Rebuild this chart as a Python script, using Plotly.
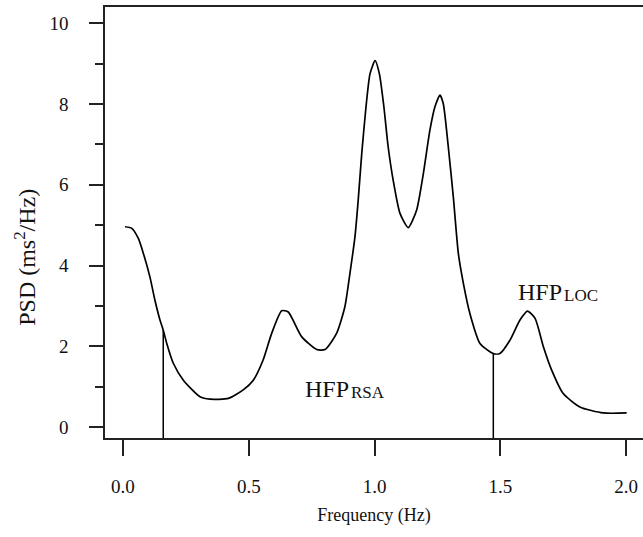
import numpy as np
import plotly.graph_objects as go

# Power spectral density estimate (frequency in Hz, PSD in ms^2/Hz)
freq = [0.008, 0.035, 0.061, 0.081, 0.107, 0.127, 0.147, 0.160, 0.174, 0.200,
        0.240, 0.306, 0.346, 0.419, 0.478, 0.518, 0.557, 0.591, 0.631, 0.657,
        0.710, 0.770, 0.803, 0.849, 0.882, 0.902, 0.922, 0.935, 0.949, 0.966,
        0.982, 1.002, 1.019, 1.037, 1.054, 1.074, 1.101, 1.134, 1.167, 1.194,
        1.220, 1.240, 1.260, 1.273, 1.293, 1.313, 1.333, 1.353, 1.379, 1.419,
        1.472, 1.498, 1.538, 1.578, 1.608, 1.638, 1.671, 1.704, 1.750, 1.816,
        1.909, 2.002]
psd = [4.96, 4.92, 4.67, 4.30, 3.72, 3.14, 2.65, 2.40, 2.07, 1.58,
       1.16, 0.75, 0.69, 0.71, 0.92, 1.16, 1.66, 2.32, 2.88, 2.85,
       2.24, 1.92, 1.92, 2.32, 2.98, 3.80, 4.71, 5.62, 6.77, 7.93,
       8.75, 9.07, 8.75, 7.93, 6.94, 6.11, 5.29, 4.94, 5.37, 6.28,
       7.35, 7.93, 8.22, 8.01, 6.94, 5.70, 4.30, 3.56, 2.81, 2.07,
       1.82, 1.82, 2.15, 2.65, 2.87, 2.69, 1.99, 1.41, 0.83, 0.50,
       0.35, 0.35]

# Band boundaries (Hz) marked with vertical lines
band_edges = [0.16, 1.472]

# Band labels: (frequency where label and subscript meet, baseline psd, text, subscript)
band_labels = [(0.902, 0.59, "HFP", "RSA"),
               (1.749, 3.00, "HFP", "LOC")]

x_range = [-0.0715, 2.067]
y_range = [-0.27, 10.40]

FONT = "'Liberation Serif', 'Times New Roman', 'DejaVu Serif', serif"
INK = "#111111"
AXIS = "#222222"

fig = go.Figure()

fig.add_trace(go.Scatter(
    x=freq, y=psd, mode="lines",
    line=dict(color="black", width=1.7, shape="spline", smoothing=0.6),
    showlegend=False, hoverinfo="skip",
))

for edge in band_edges:
    top = float(np.interp(edge, freq, psd))
    fig.add_trace(go.Scatter(
        x=[edge, edge], y=[y_range[0], top], mode="lines",
        line=dict(color="black", width=1.5),
        showlegend=False, hoverinfo="skip",
    ))

for fx, fy, main, sub in band_labels:
    fig.add_annotation(
        x=fx, y=fy, xanchor="right", yanchor="bottom", showarrow=False,
        text=main, font=dict(family=FONT, size=24, color=INK),
        borderpad=0,
    )
    fig.add_annotation(
        x=fx, y=fy, xanchor="left", yanchor="bottom", showarrow=False,
        text=sub, font=dict(family=FONT, size=17, color=INK),
        borderpad=0,
    )

# Vertical axis title, placed a little below the middle of the plot area
fig.add_annotation(
    xref="paper", yref="paper", x=-0.149, y=0.42,
    xanchor="center", yanchor="middle", textangle=-90, showarrow=False,
    text="PSD (ms<sup>2</sup>/Hz)", font=dict(family=FONT, size=24, color=INK),
)

fig.update_layout(
    width=643, height=537,
    margin=dict(l=105, r=0, t=7, b=99),
    plot_bgcolor="white", paper_bgcolor="white",
    font=dict(family=FONT, size=19, color=INK),
    showlegend=False,
)

fig.update_xaxes(
    range=x_range, tickvals=[0, 0.5, 1.0, 1.5, 2.0],
    ticktext=["0.0", "0.5", "1.0", "1.5", "2.0"],
    tickfont=dict(family=FONT, size=19, color=INK),
    ticks="outside", ticklen=16, tickwidth=1.5, tickcolor=AXIS,
    ticklabelstandoff=14,
    showline=True, linecolor=AXIS, linewidth=1.5, mirror=True,
    showgrid=False, zeroline=False,
    title=dict(text="Frequency (Hz)", standoff=13, font=dict(family=FONT, size=18, color=INK)),
)

fig.update_yaxes(
    range=y_range, tickvals=[0, 2, 4, 6, 8, 10],
    tickfont=dict(family=FONT, size=19, color=INK),
    ticks="outside", ticklen=14, tickwidth=1.5, tickcolor=AXIS,
    ticklabelstandoff=17,
    minor=dict(tickvals=[1, 3, 5, 7, 9], ticks="outside", ticklen=8,
               tickwidth=1.5, tickcolor=AXIS, showgrid=False),
    showline=True, linecolor=AXIS, linewidth=1.5, mirror=False,
    showgrid=False, zeroline=False,
)

fig.write_html("out.html")
